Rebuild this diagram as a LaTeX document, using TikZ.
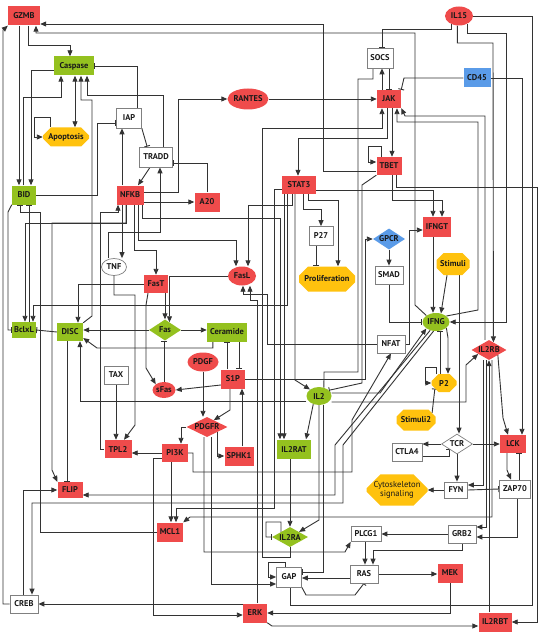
\documentclass[tikz,border=0pt]{standalone}
\usepackage{fontspec}
\setmainfont{PT Sans}
\usetikzlibrary{shapes.geometric,shapes.misc,arrows.meta}
\pgfdeclarelayer{bg}
\pgfdeclarelayer{edges}
\pgfsetlayers{bg,edges,main}
\definecolor{nred}{HTML}{EF4B4B}
\definecolor{ngreen}{HTML}{94C11F}
\definecolor{nyellow}{HTML}{FFC20E}
\definecolor{nblue}{HTML}{5A9BE8}
\definecolor{lc}{HTML}{333333}
\begin{document}
\begin{tikzpicture}[x=1pt,y=-1pt,
 base/.style={font=\bfseries\fontsize{8.4}{9}\selectfont, text=black!90, inner sep=0pt},
 rbox/.style={base, rectangle, fill=nred},
 gbox/.style={base, rectangle, fill=ngreen},
 wbox/.style={base, rectangle, fill=white, draw=black!50, line width=0.7pt},
 bbox/.style={base, rectangle, fill=nblue},
 rell/.style={base, ellipse, fill=nred},
 gell/.style={base, ellipse, fill=ngreen},
 well/.style={base, ellipse, fill=white, draw=black!50, line width=0.7pt},
 rdia/.style={base, diamond, aspect=2, fill=nred},
 gdia/.style={base, diamond, aspect=2, fill=ngreen},
 bdia/.style={base, diamond, aspect=1.5, fill=nblue},
 wdia/.style={base, diamond, aspect=2, fill=white, draw=black!50, line width=0.7pt},
 yoct/.style={base, chamfered rectangle, chamfered rectangle xsep=4pt, chamfered rectangle ysep=4pt, fill=nyellow},
 sz/.style 2 args={minimum width=#1, minimum height=#2},
 act/.style={draw=lc, line width=0.9pt, -{Triangle[length=6pt,width=5pt]}},
 act2/.style={draw=lc, line width=0.9pt, {Triangle[length=6pt,width=5pt]}-{Triangle[length=6pt,width=5pt]}},
 inh/.style={draw=lc, line width=0.9pt, -{Bar[width=6pt,line width=0.9pt]}},
]
\begin{pgfonlayer}{bg}
\fill[white] (0,0) rectangle (543,639);
\end{pgfonlayer}
\useasboundingbox (0,0) rectangle (543,639);

% nodes
\node[rbox, sz={32}{19}] (GZMB) at (24,16) {GZMB};
\node[gbox, sz={40}{19}] (Caspase) at (74,66) {Caspase};
\node[yoct, sz={46}{19}] (Apoptosis) at (66,137) {Apoptosis};
\node[wbox, sz={25}{20}] (IAP) at (129,118) {IAP};
\node[wbox, sz={33}{20}] (TRADD) at (156,157) {TRADD};
\node[rell, sz={40}{21}] (RANTES) at (248,99) {RANTES};
\node[rell, sz={28}{19}] (IL15) at (459,16) {IL15};
\node[wbox, sz={26}{20}] (SOCS) at (380,58) {SOCS};
\node[bbox, sz={27}{19}] (CD45) at (477,78) {CD45};
\node[rbox, sz={24}{18}] (JAK) at (389,99) {JAK};
\node[rbox, sz={25}{18}] (TBET) at (389,166) {TBET};
\node[rbox, sz={34}{18}] (STAT3) at (299,185) {STAT3};
\node[rbox, sz={25}{19}] (A20) at (207,202) {A20};
\node[rbox, sz={27}{19}] (NFKB) at (130,195) {NFKB};
\node[gbox, sz={24}{19}] (BID) at (24,195) {BID};
\node[wbox, sz={24}{19}] (P27) at (321,236) {P27};
\node[bdia, sz={32}{21}] (GPCR) at (389,239) {GPCR};
\node[rbox, sz={28}{20}] (IFNGT) at (437,227) {IFNGT};
\node[wbox, sz={28}{18}] (SMAD) at (389,275) {SMAD};
\node[yoct, sz={33}{22}] (Stimuli) at (453,264) {Stimuli};
\node[well, sz={25}{17}] (TNF) at (114,267) {TNF};
\node[rbox, sz={24}{18}] (FasT) at (156,284) {FasT};
\node[rell, sz={28}{19}] (FasL) at (242,276) {FasL};
\node[yoct, sz={56}{25}, chamfered rectangle xsep=6pt, chamfered rectangle ysep=6pt] (Proliferation) at (327,279) {Proliferation};
\node[gell, sz={27}{18}] (IFNG) at (436,322) {IFNG};
\node[gbox, sz={24}{16}] (BclxL) at (24,330) {BclxL};
\node[gbox, sz={26}{18}] (DISC) at (70,332) {DISC};
\node[gdia, sz={32}{21}] (Fas) at (165,330) {Fas};
\node[gbox, sz={40}{19}] (Ceramide) at (227,332) {Ceramide};
\node[wbox, sz={28}{18}] (NFAT) at (391,344) {NFAT};
\node[rdia, sz={35}{20}] (IL2RB) at (489,350) {IL2RB};
\node[rell, sz={31}{19}] (PDGF) at (203,362) {PDGF};
\node[rbox, sz={24}{19}] (S1P) at (233,379) {S1P};
\node[wbox, sz={24}{18}] (TAX) at (116,375) {TAX};
\node[rell, sz={23}{16}] (sFas) at (164,390) {sFas};
\node[gell, sz={25}{18}] (IL2) at (319,396) {IL2};
\node[yoct, sz={25}{18}] (P2) at (444,383) {P2};
\node[rdia, sz={41}{20}] (PDGFR) at (207,427) {PDGFR};
\node[yoct, sz={39}{21}] (Stimuli2) at (416,420) {Stimuli2};
\node[rbox, sz={27}{18}] (TPL2) at (118,449) {TPL2};
\node[rbox, sz={26}{18}] (PI3K) at (175,453) {PI3K};
\node[rbox, sz={29}{19}] (SPHK1) at (239,456) {SPHK1};
\node[gbox, sz={34}{19}] (IL2RAT) at (294,449) {IL2RAT};
\node[wdia, sz={31}{20}] (TCR) at (457,444) {TCR};
\node[wbox, sz={30}{18}] (CTLA4) at (407,452) {CTLA4};
\node[rbox, sz={26}{18}] (LCK) at (513,444) {LCK};
\node[yoct, sz={61}{28}, chamfered rectangle xsep=7pt, chamfered rectangle ysep=7pt, font=\fontsize{8.6}{9.4}\selectfont, align=center] (Cyto) at (397,490) {Cytoskeleton\\signaling};
\node[wbox, sz={23}{16}] (FYN) at (456,490) {FYN};
\node[wbox, sz={31}{18}] (ZAP70) at (515,489) {ZAP70};
\node[rbox, sz={25}{16}] (FLIP) at (70,490) {FLIP};
\node[rbox, sz={26}{19}] (MCL1) at (170,532) {MCL1};
\node[gdia, sz={36}{20}] (IL2RA) at (290,537) {IL2RA};
\node[wbox, sz={30}{15}] (PLCG1) at (366,534) {PLCG1};
\node[wbox, sz={28}{18}] (GRB2) at (462,534) {GRB2};
\node[wbox, sz={25}{20}] (GAP) at (289,577) {GAP};
\node[wbox, sz={28}{18}] (RAS) at (364,574) {RAS};
\node[rbox, sz={25}{19}] (MEK) at (450,573) {MEK};
\node[wbox, sz={28}{18}] (CREB) at (24,604) {CREB};
\node[rbox, sz={24}{19}] (ERK) at (255,613) {ERK};
\node[rbox, sz={33}{19}] (IL2RBT) at (495,622) {IL2RBT};

\begin{pgfonlayer}{edges}
% top left
\draw[act] ([yshift=-5pt]TBET.west) -- (323,171) |- ([yshift=-8pt]GZMB.east);
\draw[act] (IFNG.north west) -- (415,305) -- (415,33) -| ([xshift=12pt]GZMB.south);
\draw[act] ([xshift=4pt]GZMB.south) |- (70,45) -- ([xshift=-4pt]Caspase.north);
\draw[act] ([xshift=-5pt]GZMB.south) -- ([xshift=-5pt]BID.north);
\draw[act] ([yshift=-4pt]Caspase.west) -| ([xshift=7pt]BID.north);
\draw[act] ([xshift=-1pt]BID.north) |- (61,97) -- ([xshift=-13pt]Caspase.south);
\draw[act2] ([xshift=1pt]Caspase.south) -- ([xshift=9pt]Apoptosis.north);
\draw[act] ([xshift=-16pt]Apoptosis.north) |- (34,117) |- (Apoptosis.west);
\draw[inh] ([xshift=8pt]IAP.north) |- (Caspase.east);
\draw[act] ([xshift=7pt]TRADD.north) |- (87,95) -- ([xshift=13pt]Caspase.south);
\draw[inh] (IAP.south east) -- ([xshift=8pt]TRADD.north west);
\draw[inh] (BID.east) -- (97,195) |- ([yshift=-5pt]IAP.west);
\draw[act] ([xshift=-8pt]NFKB.north) -- ([xshift=-7pt]IAP.south);
\draw[act] ([xshift=-6pt]TRADD.south) -- ([xshift=8pt]NFKB.north);
\draw[act] ([yshift=3pt]NFKB.east) -- (178,192) |- (RANTES.west);
\draw[act] ([yshift=-7pt]NFKB.east) -- (A20.west);
\draw[inh] (A20.north) |- ([yshift=-6pt]TRADD.east);
\draw[act] ([xshift=-6pt]TNF.north) |- (160,232) -- ([xshift=4pt]TRADD.south);
\draw[act] ([xshift=-8pt]NFKB.south) -- ([xshift=8pt]TNF.north);
\draw[act] ([xshift=4pt]NFKB.south) |- (156,250) -- (FasT.north);
\draw[act] ([xshift=8pt]NFKB.south) |- (236,240) -- ([xshift=-6pt]FasL.north);
\draw[act] ([xshift=12pt]NFKB.south) |- (280,218) -- ([xshift=-14pt]IL2RAT.north);
\draw[act] ([xshift=-4pt]NFKB.south) |- (52,223) -- (52,470) -- (FLIP.north west);
\draw[act] ([xshift=-4pt]NFKB.south) |- (25,223) -- ([xshift=1pt]BclxL.north);
\draw[act] (TPL2.west) -- (100,449) |- (118,212) -- ([xshift=-12pt]NFKB.south);
% Fas area
\draw[act] ([xshift=9pt]FasT.south) -- (Fas.north);
\draw[act] ([xshift=-8pt]FasT.south) -- (146,305) -- (146,368) -- (sFas.north west);
\draw[act] (FasT.west) -| ([xshift=8pt]DISC.north);
\draw[inh] (sFas.north) -- ([xshift=-1pt]Fas.south);
\draw[act] (FasL.west) -| (Fas.60);
\draw[act] (Fas.west) -- (Fas.west -| DISC.east);
\draw[act] (Fas.east) -- (Fas.east -| Ceramide.west);
\draw[act] ([xshift=6pt]Ceramide.south west) |- (97,348) -- ([yshift=-6pt]DISC.east);
\draw[inh] ([xshift=-6pt]S1P.north) -- (Ceramide.south);
\draw[inh] ([xshift=12pt]Ceramide.south) -- ([xshift=6pt]S1P.north);
\draw[act] ([yshift=-6pt]S1P.west) -- (sFas.east);
\draw[act] (PDGF.south) -- (PDGF.south |- PDGFR.north);
\draw[act] ([xshift=-3pt]S1P.south) -- (230,410) -- (PDGFR.45);
\draw[act] (PDGFR.south east) |- (SPHK1.west);
\draw[act] ([xshift=3pt]SPHK1.north) -- ([xshift=9pt]S1P.south);
\draw[act] (PDGFR.west) -| ([xshift=6pt]PI3K.north);
\draw[act] ([xshift=-3pt]PDGFR.south) |- (345,552) -- (PLCG1.south west);
\draw[act] ([xshift=4pt]PDGFR.south) |- ([yshift=-7pt]GAP.west);
% bottom
\draw[act] ([xshift=-4pt]GAP.north) |- (268,562) |- (GAP.west);
\draw[act] ([yshift=-4pt]RAS.west) -- ([yshift=-1pt]GAP.east);
\draw[inh] (GAP.south east) -- (306,595) -- (355,595) -- (RAS.south);
\draw[act] (RAS.east) -- (RAS.east -| MEK.west);
\draw[act] (MEK.south) |- (ERK.east);
\draw[act] ([yshift=-5pt]PI3K.west) -- (153,458) |- ([yshift=-2pt]ERK.west);
\draw[act] ([yshift=9pt]ERK.west) -- (CREB.east);
\draw[act] ([xshift=2pt]ERK.north) -- (257,300) -| ([xshift=8pt]FasL.south);
\draw[act] (ERK.south east) -- (272,626) -- ([yshift=-4pt]IL2RBT.west);
\draw[act] ([xshift=7pt]TBET.south) |- (537,187) |- (IL2RBT.east);
\draw[act] (IL2RBT.north -| IL2RB.south) -- (IL2RB.south);
\draw[act] (IL2RB.south east) -- (503,418) -- ([xshift=-5pt]LCK.north);
\draw[act] ([xshift=-3pt]IL2RB.south) |- ([yshift=7pt]GRB2.east);
\draw[act] ([xshift=2pt]ZAP70.south) |- ([yshift=-3pt]GRB2.east);
\draw[act] (GRB2.west) -- (GRB2.west -| PLCG1.east);
\draw[act] (GRB2.south) |- (373,550) -- ([xshift=9pt]RAS.north);
\draw[act] ([xshift=-1pt]PLCG1.south) -- ([xshift=1pt]RAS.north);
\draw[inh] ([xshift=4pt]ZAP70.north) -- ([xshift=6pt]LCK.south);
\draw[act] ([xshift=-6pt]LCK.south) -- (507,470) -- ([xshift=-4pt]ZAP70.north);
\draw[inh] (FYN.east) -- (ZAP70.west);
\draw[act] ([xshift=-6pt]IL2RB.south) |- ([yshift=5pt]FYN.east);
\draw[act] (TCR.south) -- (TCR.south |- FYN.north);
\draw[act] (FYN.west) -- (FYN.west -| Cyto.east);
\draw[act] (TCR.east) -- (TCR.east -| LCK.west);
\draw[act] (TCR.west) -- (TCR.west -| CTLA4.east);
\draw[inh] ([yshift=-4pt]CTLA4.east) -| (TCR.south west);
\draw[act] ([xshift=6pt]Stimuli.south) -- ([xshift=2pt]TCR.north);
\draw[act] ([xshift=-6pt]Stimuli.south) -- (IFNG.60);
\draw[act] ([xshift=-4pt]IFNGT.south) -- ([xshift=-3pt]IFNG.north);
\draw[act] ([xshift=3pt]TBET.south) |- (442,200) -- ([xshift=5pt]IFNGT.north);
\draw[act] ([yshift=-5pt]STAT3.east) -| ([xshift=-4pt]IFNGT.north);
\draw[act] (NFAT.east) -- (409,344) |- ([yshift=-3pt]IFNGT.west);
\draw[act] ([xshift=-8pt]TBET.north) -- (381,146) -- (368,146) |- ([yshift=4pt]TBET.west);
\draw[act] ([xshift=3pt]JAK.south) -- ([xshift=3pt]TBET.north);
\draw[act] ([xshift=-2pt]JAK.south) |- (298,138) -- ([xshift=-1pt]STAT3.north);
% STAT3 outputs
\draw[act] ([xshift=4pt]STAT3.south) |- (321,209) -- (P27.north);
\draw[act] ([xshift=9pt]STAT3.south) |- (338,200) -- ([xshift=11pt]Proliferation.north);
\draw[inh] ([xshift=-5pt]P27.south) -- ([xshift=-11pt]Proliferation.north);
\draw[act] ([xshift=-7pt]STAT3.south) |- (248,205) -- ([xshift=6pt]FasL.north);
\draw[act] ([xshift=-15pt]STAT3.south) -- ([xshift=-10pt]IL2RAT.north);
\draw[act] ([xshift=-4pt]STAT3.south) -- (295,380) -- (IL2.north west);
\draw[act] ([xshift=-12pt]STAT3.south) |- (33,305) -- ([xshift=9pt]BclxL.north);
\draw[act] ([yshift=-4pt]STAT3.west) -- (274,189) -- (274,508) -| ([xshift=6pt]MCL1.north);
% JAK area
\draw[act] (RANTES.east) -- (JAK.west);
\draw[act] ([xshift=-7pt]JAK.north) -- ([xshift=2pt]SOCS.south);
\draw[inh] ([xshift=9pt]SOCS.south) -- (JAK.north);
\draw[inh] (IL15.-135) |- (382,29) -- ([xshift=2pt]SOCS.north);
\draw[inh] (CD45.west) -- (404,78) -- (JAK.north east);
\draw[act] (CD45.east) -| ([xshift=9pt]LCK.north);
\draw[act] (IL15.-100) |- (493,43) -- (IL2RB.60);
\draw[act] (IL15.-45) |- (506,33) |- (IFNG.east);
\draw[inh] (IL15.east) -- (532,16) -- (532,605) -| ([xshift=1pt]GAP.south);
\draw[act] (IFNG.30) -- (478,310) -- (478,122) -| ([xshift=8pt]JAK.south);
\draw[act] ([xshift=-4pt]IL2RB.north) -- (485,116) -- (405,116) -- (JAK.south east);
\draw[act] (IL2RA.south) |- (262,557) -- (262,128) -| ([xshift=-7pt]JAK.south);
% IL2 area
\draw[inh] (IL2RA.150) -- (281,522) -- (266,522) |- (IL2RA.west);
\draw[act] ([xshift=-4pt]IL2RAT.south) -- (IL2RA.north);
\draw[act] (IL2.south) -- (319,520) -- (IL2RA.north east);
\draw[act] (IL2.235) -- ([xshift=12pt]IL2RAT.north);
\draw[inh] ([xshift=4pt]IL2.south) -- (323,572) -- ([yshift=5pt]GAP.east);
\draw[act] ([yshift=-5pt]IL2.west) -| ([xshift=10pt]DISC.south);
\draw[act] ([yshift=3pt]IL2.east) -- (380,393) -- (IFNG.south west);
\draw[act] ([yshift=-6pt]IL2.east) -- (466,402) -- (466,365) -- (IL2RB.200);
\draw[inh] (IL2.60) -- (324,372) -- (358,372) -- (358,79) -| ([xshift=-7pt]SOCS.south);
\draw[inh] (TBET.south west) -- (362,185) -- (362,383) -- (IL2.30);
\draw[act] (S1P.east) -- (365,379) |- (GPCR.west);
\draw[act] (GPCR.south) -- (SMAD.north);
\draw[inh] (SMAD.south) |- (IFNG.west);
\draw[act] (PI3K.east) -- (193,453) -- (193,472) -- (352,472) -- (352,420) -- (NFAT.south);
\draw[act] (NFAT.west) -- (267,344) -- (267,294) -| ([xshift=1pt]FasL.south);
\draw[act] (IFNG.235) -- (335,445) -- (335,495) -- ([yshift=-5pt]FLIP.east);
\draw[act] (IFNG.255) -- (343,445) -- (343,503) -| ([xshift=8pt]CREB.north);
\draw[act] ([xshift=-1pt]CREB.north) |- (FLIP.west);
\draw[act] (CREB.west) -- (3,604) -- (3,30) -- (GZMB.south west);
\draw[act] ([xshift=3pt]IL2RB.south) |- (190,517) -- (MCL1.north east);
\draw[act] ([xshift=-4pt]PI3K.south) -- ([xshift=1pt]MCL1.north);
\draw[inh] (MCL1.west) -| (40,212) -| ([xshift=-4pt]BID.south);
\draw[inh] ([xshift=5pt]BclxL.north) -- ([xshift=5pt]BID.south);
\draw[inh] (BID.south west) -- (8,212) |- (BclxL.west);
\draw[inh] (DISC.west) -- (BclxL.east);
\draw[inh] ([xshift=-3pt]DISC.south) -- ([xshift=-3pt]FLIP.north);
\draw[act] (DISC.north east) -- (92,316) -- (92,100) -| ([xshift=7pt]Caspase.south);
\draw[act] (TAX.south) -- ([xshift=-2pt]TPL2.north);
\draw[act] (PI3K.west) -- (PI3K.west -| TPL2.east);
\draw[act] (TNF.south) |- (135,295) -- (135,425) -- ([xshift=6pt]TPL2.north);
\draw[inh] (Stimuli2.north east) -- (P2.south west);
\draw[act] ([xshift=-8pt]P2.north) -- (436,367) -- (425,367) |- (P2.west);
\draw[inh] ([xshift=-4pt]P2.north) -- ([xshift=4pt]IFNG.south);
\draw[act] (IFNG.-30) -- (448,338) -- ([xshift=4pt]P2.north);
\end{pgfonlayer}
\end{tikzpicture}
\end{document}
